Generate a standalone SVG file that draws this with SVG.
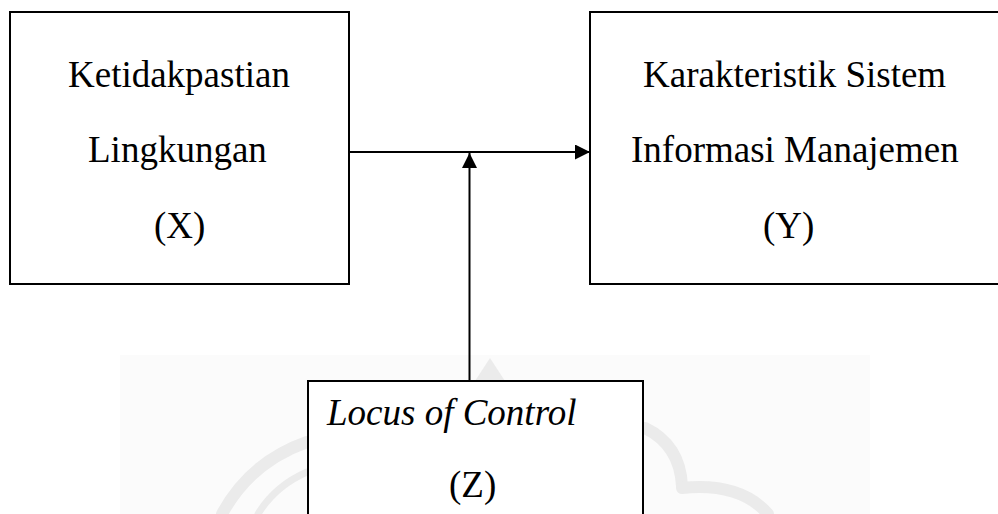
<svg xmlns="http://www.w3.org/2000/svg" width="998" height="514" viewBox="0 0 998 514">
<defs>
<style>
.box{fill:#fff;stroke:#000;stroke-width:2}
.t{font-family:'Liberation Serif',serif;font-size:37px;fill:#000}
.it{font-style:italic}
.ln{stroke:#000;stroke-width:2;fill:none}
.wm{stroke:#ebebeb;fill:none;stroke-linecap:round}
</style>
<marker id="ah" markerWidth="15" markerHeight="15" refX="15" refY="7.5" orient="auto" markerUnits="userSpaceOnUse">
<path d="M0,0 L15,7.5 L0,15 Z" fill="#000"/>
</marker>
</defs>
<rect width="998" height="514" fill="#fff"/>
<g id="watermark">
<rect x="120" y="355" width="750" height="159" fill="#fbfbfb"/>
<path d="M490,358 L475,381 L505,381 Z" fill="#ebebeb"/>
<path class="wm" stroke-width="12" d="M307,442 Q250,462 222,514"/>
<path class="wm" stroke-width="7" d="M307,472 Q275,486 258,514"/>
<path class="wm" stroke-width="12" d="M645,428 Q680,445 682,486"/>
<path class="wm" stroke-width="12" d="M682,488 Q740,482 768,514"/>
</g>
<g id="connectors">
<line class="ln" x1="349" y1="152" x2="590" y2="152" marker-end="url(#ah)"/>
<line class="ln" x1="469.5" y1="381" x2="469.5" y2="153" marker-end="url(#ah)"/>
</g>
<g id="node-x">
<rect class="box" x="10" y="12" width="339" height="272"/>
<text class="t" x="68" y="87">Ketidakpastian</text>
<text class="t" x="88" y="162">Lingkungan</text>
<text class="t" x="154" y="238">(X)</text>
</g>
<g id="node-y">
<rect class="box" x="590" y="12" width="420" height="272"/>
<text class="t" x="643" y="87">Karakteristik Sistem</text>
<text class="t" x="631" y="162">Informasi Manajemen</text>
<text class="t" x="763" y="238">(Y)</text>
</g>
<g id="node-z">
<rect class="box" x="308" y="381" width="335" height="150"/>
<text class="t it" x="327" y="425">Locus of Control</text>
<text class="t" x="449" y="497">(Z)</text>
</g>
</svg>
